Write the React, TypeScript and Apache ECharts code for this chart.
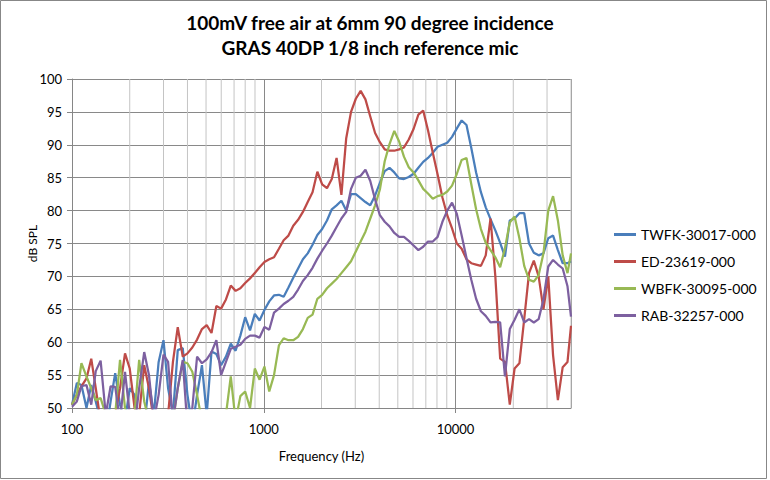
import React, { useEffect, useRef } from 'react'
import * as echarts from 'echarts'

// 1/12-octave measurement grid (Hz)
const FREQS = [
  100, 106, 112, 119, 126, 133, 141, 150, 159, 168, 178, 189,
  200, 212, 224, 238, 252, 267, 283, 300, 317, 336, 356, 378,
  400, 424, 449, 476, 504, 534, 566, 599, 635, 673, 713, 755,
  800, 848, 898, 951, 1008, 1068, 1131, 1199, 1270, 1345, 1425, 1510,
  1600, 1695, 1796, 1903, 2016, 2136, 2263, 2397, 2540, 2691, 2851, 3020,
  3200, 3390, 3592, 3806, 4032, 4272, 4525, 4794, 5080, 5382, 5702, 6041,
  6400, 6781, 7184, 7611, 8063, 8543, 9051, 9589, 10159, 10763, 11404, 12082,
  12800, 13561, 14368, 15222, 16127, 17086, 18102, 19179, 20319, 21527, 22807, 24163,
  25600, 27122, 28735, 30444, 32254, 34172, 36204, 38357, 40000,
]

const TWFK = [
  50.5, 53.8, 53.5, 50, 53.5, 51, 48, 46, 51, 55.3, 50.5, 48,
  53, 52, 48, 47, 54, 49, 57, 60.3, 53, 49, 58.8, 59.1,
  52, 47, 52, 56.5, 49, 58.6, 58.2, 56.5, 57.8, 59.8, 58.7, 61.0,
  63.8, 61.8, 64.3, 63.3, 64.9, 66.2, 67.1, 67.2, 66.9, 68.3, 69.8, 71.2,
  72.6, 73.5, 74.8, 76.3, 77.2, 78.5, 80.2, 80.8, 81.5, 80.0, 82.5, 82.5,
  81.9, 81.3, 80.8, 82.3, 84.2, 86.0, 86.5, 85.8, 84.9, 84.8, 85.1, 85.6,
  86.5, 87.4, 88.0, 88.8, 89.7, 90.0, 90.3, 91.2, 92.5, 93.7, 93.0, 89.5,
  85.8, 82.8, 80.5, 78.7, 77.0, 75.1, 73.0, 78.5, 78.8, 79.6, 79.6, 75.0,
  73.6, 73.2, 73.5, 75.8, 76.2, 74.0, 72.0, 72.0, 72.3,
]

const ED = [
  50.5, 52, 53.3, 54.5, 57.5, 53, 48, 47, 48, 49, 53, 58.3,
  56, 50, 49, 56.5, 53, 48, 46, 47, 49, 57, 62.3, 57.8,
  58.3, 59.2, 60.4, 62.0, 62.6, 61.4, 65.5, 65.1, 66.5, 68.6, 67.8, 68.2,
  69.0, 69.7, 70.5, 71.4, 72.2, 72.6, 72.9, 74.2, 75.5, 76.2, 77.7, 78.6,
  79.8, 81.3, 82.8, 85.9, 84.0, 83.4, 84.8, 88.0, 82.4, 91.0, 95.0, 97.0,
  98.2, 96.9, 94.3, 91.8, 90.4, 89.3, 89.1, 89.1, 89.3, 89.6, 90.8, 92.4,
  94.6, 95.2, 92.2, 88.8, 85.5, 82.0, 79.3, 77.3, 75.0, 74.2, 72.6, 72.0,
  71.8, 71.6, 73.2, 78.8, 70.0, 57.5, 57.0, 50.5, 56.0, 56.8, 63.5, 70.5,
  72.4, 70.0, 65.0, 70.0, 58.0, 51.2, 56.2, 57.0, 62.5,
]

const WBFK = [
  50.5, 52, 56.8, 54.8, 53, 51.2, 51.5, 49, 47, 49, 57.3, 50,
  47, 49, 57.3, 51, 48, 46, 48, 47, 45, 48, 53, 57,
  56.8, 55.5, 52, 48, 46, 48, 46, 47, 49, 54.8, 48, 51.8,
  52.5, 50, 56, 54.3, 56.3, 52.5, 55, 59.5, 60.6, 60.3, 60.3, 60.8,
  62.0, 63.7, 64.2, 66.6, 67.2, 68.2, 68.9, 69.6, 70.5, 71.4, 72.3, 73.8,
  75.3, 76.8, 78.8, 80.8, 83.2, 87.5, 90.1, 92.1, 90.5, 88.2, 86.6, 85.8,
  84.6, 83.3, 82.6, 81.8, 82.2, 82.4, 82.9, 83.8, 85.6, 87.7, 88.0, 84.0,
  80.2, 77.2, 75.1, 74.0, 72.9, 71.4, 74.3, 78.2, 79.1, 75.8, 71.6, 69.5,
  69.2, 70.2, 73.5, 80.0, 82.2, 78.5, 73.2, 70.5, 73.5,
]

const RAB = [
  50.2, 51, 53.3, 53.5, 50.5, 55.6, 57.2, 49, 53.3, 53.2, 48, 55.5,
  49, 47, 53, 58.5, 55, 48, 52, 58.1, 57, 48, 53, 57.3,
  47, 50, 57.8, 56.8, 57.4, 58.5, 60.3, 55, 57, 59.0, 59.3, 59.6,
  60.5, 61.0, 61.0, 60.7, 62.3, 61.9, 64.5, 65.1, 65.8, 66.3, 66.9, 68.0,
  69.3, 70.2, 71.3, 72.7, 73.9, 75.0, 76.2, 77.5, 78.8, 79.8, 83.3, 85.0,
  85.3, 86.2, 84.5, 81.7, 79.3, 78.3, 77.6, 76.6, 76.0, 76.0, 75.4, 74.7,
  74.0, 74.5, 75.3, 75.3, 76.0, 78.3, 80.0, 81.2, 79.5, 76.2, 72.8, 69.5,
  66.6, 64.7, 64.0, 63.0, 63.1, 63.0, 54.8, 62.0, 63.4, 65.0, 63.0, 63.5,
  63.0, 63.5, 66.5, 71.5, 72.5, 71.8, 71.2, 68.5, 63.9,
]

const SERIES_NAMES = ['TWFK-30017-000', 'ED-23619-000', 'WBFK-30095-000', 'RAB-32257-000']
const SERIES_VALUES = [TWFK, ED, WBFK, RAB]
const COLORS = ['#4A7EBB', '#BE4B48', '#98B954', '#7D60A0']

// log-axis minor gridlines
const MINOR_FREQS = [200, 300, 400, 500, 600, 700, 800, 900, 2000, 3000, 4000, 5000, 6000, 7000, 8000, 9000, 20000, 30000, 40000]

const FONT = 'Lato, "Open Sans", sans-serif'

export default function App() {
  const ref = useRef<HTMLDivElement>(null)

  useEffect(() => {
    document.body.style.margin = '0'
    if (!ref.current) return
    const chart = echarts.init(ref.current, undefined, { renderer: 'svg' })

    const lines = SERIES_VALUES.map((vals, s) => ({
      name: SERIES_NAMES[s],
      type: 'line',
      data: FREQS.map((f, i) => [f, vals[i]]),
      showSymbol: false,
      symbol: 'none',
      clip: true,
      z: 3,
      lineStyle: { width: 2.25, color: COLORS[s] },
      itemStyle: { color: COLORS[s] },
    }))

    chart.setOption({
      animation: false,
      textStyle: { fontFamily: FONT, color: '#000' },
      graphic: [
        { type: 'rect', shape: { x: 0.5, y: 0.5, width: 766, height: 478 }, style: { fill: 'none', stroke: '#878787', lineWidth: 1 }, silent: true },
        { type: 'text', x: 370, y: 22, style: { text: '100mV free air at 6mm 90 degree incidence', font: `bold 19px ${FONT}`, fill: '#000', textAlign: 'center', textVerticalAlign: 'middle' } },
        { type: 'text', x: 370, y: 47, style: { text: 'GRAS 40DP 1/8 inch reference mic', font: `bold 19px ${FONT}`, fill: '#000', textAlign: 'center', textVerticalAlign: 'middle' } },
      ],
      grid: { left: 72, right: 199, top: 79, bottom: 72, containLabel: false },
      legend: {
        orient: 'vertical',
        left: 609,
        top: 221,
        itemWidth: 22,
        itemHeight: 3,
        itemGap: 10,
        icon: 'rect',
        data: SERIES_NAMES,
        textStyle: { fontSize: 14, fontFamily: FONT, color: '#000', lineHeight: 17 },
      },
      xAxis: {
        type: 'log',
        logBase: 10,
        min: 100,
        max: 40000,
        name: 'Frequency (Hz)',
        nameLocation: 'middle',
        nameGap: 41,
        nameMoveOverlap: false,
        nameTextStyle: { fontSize: 13, fontFamily: FONT, color: '#000' },
        axisLine: { lineStyle: { color: '#868686' } },
        axisTick: { show: true, length: 5, lineStyle: { color: '#868686' } },
        axisLabel: { fontSize: 13, margin: 14, color: '#000', fontFamily: FONT, showMaxLabel: false, formatter: (v: number) => String(Math.round(v)) },
        splitLine: { show: true, lineStyle: { color: '#898989', width: 1 } },
        minorTick: { show: false },
      },
      yAxis: {
        type: 'value',
        min: 50,
        max: 100,
        interval: 5,
        name: 'dB SPL',
        nameLocation: 'middle',
        nameGap: 34,
        nameRotate: 90,
        nameMoveOverlap: false,
        nameTextStyle: { fontSize: 12, fontFamily: FONT, color: '#000' },
        axisLine: { show: true, lineStyle: { color: '#868686' } },
        axisTick: { show: true, length: 5, lineStyle: { color: '#868686' } },
        axisLabel: { fontSize: 13, margin: 10, color: '#000', fontFamily: FONT },
        splitLine: { show: true, lineStyle: { color: '#898989', width: 1 } },
      },
      series: [
        {
          type: 'custom',
          silent: true,
          z: 1,
          data: MINOR_FREQS.map((f) => [f, 50]),
          encode: { x: 0, y: 1 },
          renderItem: (_: any, api: any) => {
            const f = api.value(0)
            const top = api.coord([f, 100])
            const bot = api.coord([f, 50])
            return {
              type: 'line',
              shape: { x1: top[0], y1: top[1], x2: bot[0], y2: bot[1] },
              style: { stroke: '#c4c4c4', lineWidth: 1 },
            }
          },
        },
        ...lines,
      ],
    })

    return () => chart.dispose()
  }, [])

  return <div ref={ref} style={{ width: 770, height: 480 }} />
}
